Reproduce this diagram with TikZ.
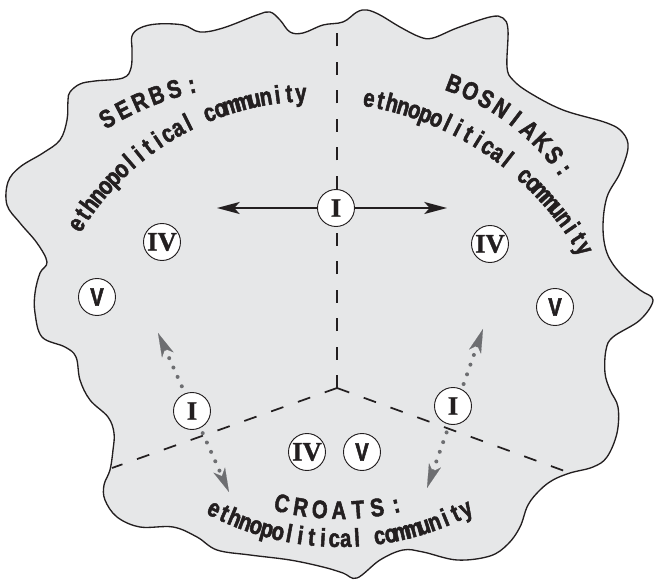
\documentclass[tikz,border=0pt]{standalone}
\usepackage{fontspec}
\usetikzlibrary{arrows.meta}
\newfontfamily\lblfam{Liberation Sans Bold}[FakeStretch=0.8,FakeBold=2]
\newfontfamily\numfam{Liberation Serif Bold}[FakeBold=1]
\definecolor{blobfill}{HTML}{E6E7E8}
\definecolor{ink}{HTML}{231F20}
\definecolor{dotgray}{HTML}{6D6E71}
\newcommand\lblfont{\lblfam\fontsize{19}{22}\selectfont}
\def\arcsp{\space}
\newcommand\arcmeasure{%
  \expandafter\ifx\ch\arcsp
    \pgfmathsetmacro\arcw{\the\fontdimen2\font/0.75}%
  \else
    \setbox0=\hbox{\ch}\pgfmathsetmacro\arcw{\the\wd0/0.75}%
  \fi}
% #1 cx, #2 cy, #3 r, #4 start angle, #5 end angle, #6 dir, #7 name, #8 list
\newcommand\arctext[8]{%
  \gdef\arcsum{0}\gdef\arccnt{0}%
  \foreach \ch [count=\k] in {#8}{%
    \arcmeasure
    \pgfmathsetmacro\tmpsum{\arcsum+\arcw}\xdef\arcsum{\tmpsum}\xdef\arccnt{\k}%
  }%
  \pgfmathsetmacro\arctrack{(abs(#5-#4)*pi/180*#3-\arcsum)/(\arccnt-1)}%
  \gdef\arcpos{0}%
  \foreach \ch [count=\k] in {#8}{%
    \arcmeasure
    \pgfmathsetmacro\arcang{#4+#6*(\arcpos+\arcw/2)/(#3)*180/pi}%
    \pgfmathsetmacro\arcrot{-\arcang-90*#6}%
    \expandafter\ifx\ch\arcsp\else
      \node[lettr,anchor=base,rotate=\arcrot] (#7\k) at ({#1+#3*cos(\arcang)},{#2+#3*sin(\arcang)}) {\ch};
    \fi
    \pgfmathsetmacro\tmppos{\arcpos+\arcw+\arctrack}\xdef\arcpos{\tmppos}%
  }%
}
\begin{document}
\begin{tikzpicture}[x=0.75pt,y=-0.75pt,
  numcirc/.style={circle,draw=ink,line width=0.7pt,fill=white,minimum size=27.75pt,inner sep=0pt,text=ink},
  romnum/.style={numcirc,font=\numfam\fontsize{20}{22}\selectfont},
  sansnum/.style={numcirc,font=\lblfam\fontsize{19}{22}\selectfont},
  border/.style={draw=ink,line width=1.3pt,dash pattern=on 9.75pt off 11.6pt},
  bigarrow/.style={draw=ink,line width=1.35pt,{Stealth[length=17pt,width=9pt,inset=4pt]}-{Stealth[length=17pt,width=9pt,inset=4pt]}},
  dotarrow/.style={draw=dotgray,line width=3pt,line cap=round,dash pattern=on 0pt off 7.7pt,{Stealth[length=18pt,width=9.5pt,inset=5pt,line width=0.1pt]}-{Stealth[length=18pt,width=9.5pt,inset=5pt,line width=0.1pt]}},
  lettr/.style={font=\lblfont,text=ink,inner sep=0pt,outer sep=0pt}
]
\useasboundingbox (0,0) rectangle (654,580);
% outline
\path[fill=blobfill,draw=ink,line width=1pt] plot[smooth cycle,tension=0.6] coordinates {
(70,92) (80,84) (95,81) (123,78) (131,68) (132,50) (132,36) (140,28) (157,24) (183,25)
(200,32) (223,28) (257,15) (270,12) (280,20) (290,32) (303,33) (323,25) (343,22)
(357,12) (367,10) (380,15) (400,27) (420,37) (433,38) (457,28) (490,17) (503,18)
(508,30) (507,67) (513,80) (530,93) (563,110) (607,123) (623,133) (628,148) (620,173)
(607,197) (603,227) (607,253) (620,273) (640,290) (653,300) (640,320) (613,337)
(606,350) (605,373) (610,390) (618,407) (617,433) (607,457) (593,467) (570,473)
(553,480) (540,490) (528,505) (520,527) (508,544) (490,556) (457,560) (423,552)
(403,550) (380,560) (357,578) (343,573) (323,567) (290,560) (250,555) (217,550)
(197,537) (173,527) (140,527) (117,517) (105,500) (104,485) (110,470) (113,450)
(114,433) (108,417) (90,400) (80,380) (76,357) (65,347) (42,337) (35,313) (35,293)
(40,273) (47,262) (37,243) (20,223) (7,205) (8,182) (20,167) (43,153) (60,140)
(67,120) (68,100)};
% borders
\coordinate (J) at (337,388);
\coordinate (dTop) at (337,22);
\coordinate (dL) at (112,468);
\coordinate (dR) at (570,473);
\draw[border] (J) -- (dTop);
\draw[border] (J) -- (dL);
\draw[border] (J) -- (dR);
% arrows
\coordinate (aL) at (217,208);
\coordinate (aR) at (447,208);
\coordinate (gL1) at (158,333);
\coordinate (gL2) at (229,492);
\coordinate (gR1) at (483,329);
\coordinate (gR2) at (427,488);
\draw[bigarrow] (aL) -- (aR);
\draw[dotarrow] (gL1) -- (gL2);
\draw[dotarrow] (gR1) -- (gR2);
% circles
\node[romnum] (iTop) at (336,208) {I};
\node[romnum] (ivL) at (162,242) {IV};
\node[sansnum] (vL) at (97,297) {V};
\node[romnum] (ivR) at (490,244) {IV};
\node[sansnum] (vR) at (555,307) {V};
\node[romnum] (iL) at (192,411) {I};
\node[romnum] (iR) at (453,406) {I};
\node[romnum] (ivB) at (307,452) {IV};
\node[sansnum] (vB) at (362,452) {V};
% texts
\begin{scope}
\lblfont
\arctext{263.8}{384.5}{300}{239.5}{256.5}{1}{serbA}{S,E,R,B,S,:}
\arctext{313}{372}{270.8}{212}{267.5}{1}{serbB}{e,t,h,n,o,p,o,l,i,t,i,c,a,l,\arcsp,c,o,m,m,u,n,i,t,y}
\arctext{368}{311}{234}{290.8}{324.2}{1}{bosA}{B,O,S,N,I,A,K,S,:}
\arctext{315}{406}{304}{280}{329.6}{1}{bosB}{e,t,h,n,o,p,o,l,i,t,i,c,a,l,\arcsp,c,o,m,m,u,n,i,t,y}
\arctext{340}{262}{257}{103.5}{77}{-1}{croA}{C,R,O,A,T,S,:}
\arctext{340}{262}{285}{117}{63}{-1}{croB}{e,t,h,n,o,p,o,l,i,t,i,c,a,l,\arcsp,c,o,m,m,u,n,i,t,y}
\end{scope}
\end{tikzpicture}
\end{document}
